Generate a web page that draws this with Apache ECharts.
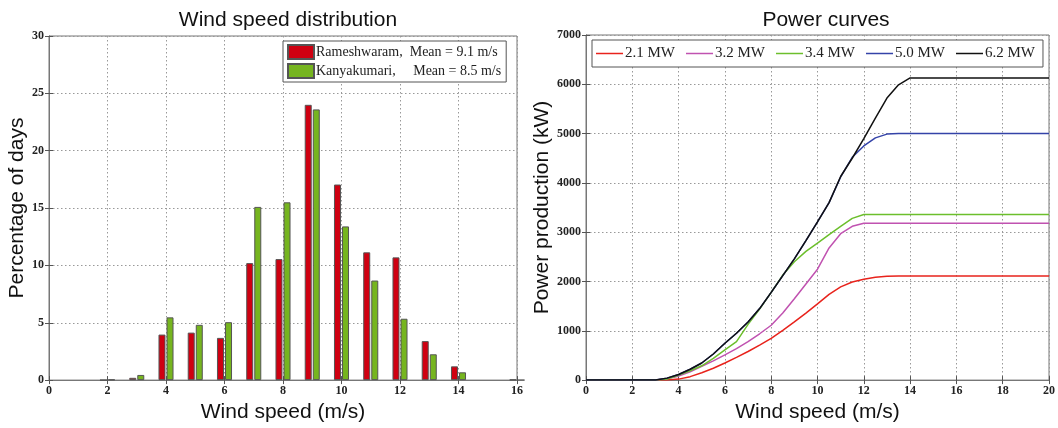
<!DOCTYPE html>
<html>
<head>
<meta charset="utf-8">
<script src="https://cdn.jsdelivr.net/npm/echarts@6/dist/echarts.min.js"></script>
<style>
  html, body { margin: 0; padding: 0; background: #fff; }
  #chart { width: 1058px; height: 428px; }
</style>
</head>
<body>
<div id="chart"></div>
<script>
// ---- wind speed distribution (percentage of days per wind speed bin)
var binSpeeds = [2, 3, 4, 5, 6, 7, 8, 9, 10, 11, 12, 13, 14, 16];
var rameshwaram = [0, 0.2, 3.97, 4.14, 3.68, 10.2, 10.55, 24.0, 17.05, 11.14, 10.7, 3.4, 1.2, 0.05];
var kanyakumari = [0.05, 0.45, 5.47, 4.82, 5.05, 15.1, 15.5, 23.6, 13.4, 8.68, 5.35, 2.25, 0.68, 0];

// ---- power curves (kW against wind speed)
var speeds = [0, 1, 2, 3, 3.5, 4, 4.5, 5, 5.5, 6, 6.5, 7, 7.5, 8, 8.5, 9, 9.5, 10, 10.5, 11, 11.5, 12, 12.5, 13, 13.5, 14, 15, 16, 17, 18, 19, 20];
var p21 = [0, 0, 0, 0, 0, 20, 70, 150, 240, 347, 460, 580, 710, 847, 1010, 1180, 1360, 1547, 1740, 1890, 1990, 2047, 2085, 2105, 2110, 2110, 2110, 2110, 2110, 2110, 2110, 2110];
var p32 = [0, 0, 0, 0, 30, 80, 170, 280, 390, 513, 640, 780, 940, 1113, 1360, 1650, 1950, 2250, 2680, 2970, 3120, 3180, 3180, 3180, 3180, 3180, 3180, 3180, 3180, 3180, 3180, 3180];
var p34 = [0, 0, 0, 0, 20, 100, 190, 290, 440, 613, 780, 1130, 1440, 1780, 2130, 2400, 2610, 2780, 2950, 3120, 3280, 3360, 3360, 3360, 3360, 3360, 3360, 3360, 3360, 3360, 3360, 3360];
var p50 = [0, 0, 0, 0, 40, 113, 220, 347, 530, 747, 950, 1180, 1450, 1780, 2120, 2460, 2830, 3210, 3600, 4120, 4520, 4750, 4914, 4990, 5000, 5000, 5000, 5000, 5000, 5000, 5000, 5000];
var p62 = [0, 0, 0, 0, 40, 113, 220, 347, 530, 747, 950, 1180, 1450, 1780, 2120, 2460, 2830, 3210, 3600, 4130, 4500, 4900, 5314, 5720, 5990, 6130, 6130, 6130, 6130, 6130, 6130, 6130];

var turbineNames = ['2.1 MW', '3.2 MW', '3.4 MW', '5.0 MW', '6.2 MW'];
var turbineColors = ['#e8231c', '#c052b0', '#6cbf2c', '#3443a8', '#111111'];
var turbinePower = [p21, p32, p34, p50, p62];

var serif = 'Liberation Serif';
var sans = 'Liberation Sans';

function pairs(xs, ys) {
  return xs.map(function (x, i) { return [x, ys[i]]; });
}

var tickLabel = {
  fontFamily: serif, fontWeight: 'bold', fontSize: 12, color: '#222', margin: 5,
  formatter: function (v) { return String(v); }
};
var dotted = { show: true, lineStyle: { type: [1.5, 2.5], color: '#999', width: 1 } };
var frameLine = { show: true, lineStyle: { color: '#777', width: 1 } };
var tickIn = { show: true, inside: true, length: 4, lineStyle: { color: '#555' } };
var nameStyle = { fontFamily: sans, fontSize: 21, color: '#111' };
var titleStyle = { fontFamily: sans, fontSize: 21, fontWeight: 'normal', color: '#111' };

function mirrorAxis(grid, pos, min, max, interval) {
  return {
    gridIndex: grid, type: 'value', position: pos, min: min, max: max, interval: interval,
    axisLine: frameLine, axisTick: tickIn, axisLabel: { show: false }, splitLine: { show: false }
  };
}

var chart = echarts.init(document.getElementById('chart'));

var lineSeries = turbineNames.map(function (name, i) {
  return {
    name: name, type: 'line', xAxisIndex: 2, yAxisIndex: 2,
    data: pairs(speeds, turbinePower[i]),
    symbol: 'none', showSymbol: false,
    lineStyle: { color: turbineColors[i], width: 1.5 },
    itemStyle: { color: turbineColors[i] }
  };
});

chart.setOption({
  backgroundColor: '#fff',
  animation: false,
  title: [
    { text: 'Wind speed distribution', left: 283, top: 5, textAlign: 'center', textStyle: titleStyle },
    { text: 'Power curves', left: 821, top: 5, textAlign: 'center', textStyle: titleStyle }
  ],
  legend: [
    {
      data: ['Rameshwaram,  Mean = 9.1 m/s', 'Kanyakumari,     Mean = 8.5 m/s'],
      orient: 'vertical', left: 283, top: 41, padding: [3, 5, 3, 4], itemGap: 3,
      icon: 'rect', itemWidth: 26, itemHeight: 14,
      borderColor: '#555', borderWidth: 1, backgroundColor: '#fff',
      textStyle: { fontFamily: serif, fontSize: 14, color: '#222', padding: [0, 0, 0, -3] }
    },
    {
      data: turbineNames,
      orient: 'horizontal', left: 592, top: 40, width: 460, padding: [6, 8, 6, 4], itemGap: 11,
      icon: 'rect', itemWidth: 27, itemHeight: 1.5,
      borderColor: '#555', borderWidth: 1, backgroundColor: '#fff',
      textStyle: { fontFamily: serif, fontSize: 15, color: '#222', padding: [0, 0, 0, -3] }
    }
  ],
  grid: [
    { left: 49, top: 36, width: 468, height: 351, show: true, borderColor: '#777', backgroundColor: '#fff' },
    { left: 586, top: 35, width: 470, height: 351, show: true, borderColor: '#777', backgroundColor: '#fff' }
  ],
  xAxis: [
    {
      gridIndex: 0, type: 'value', min: 0, max: 16, interval: 2,
      name: 'Wind speed (m/s)', nameLocation: 'middle', nameGap: 12, nameTextStyle: nameStyle,
      axisLine: frameLine, axisTick: tickIn, axisLabel: tickLabel, splitLine: dotted
    },
    mirrorAxis(0, 'top', 0, 16, 2),
    {
      gridIndex: 1, type: 'value', min: 0, max: 20, interval: 2,
      name: 'Wind speed (m/s)', nameLocation: 'middle', nameGap: 12, nameTextStyle: nameStyle,
      axisLine: frameLine, axisTick: tickIn, axisLabel: tickLabel, splitLine: dotted
    },
    mirrorAxis(1, 'top', 0, 20, 2)
  ],
  yAxis: [
    {
      gridIndex: 0, type: 'value', min: 0, max: 30, interval: 5,
      name: 'Percentage of days', nameLocation: 'middle', nameGap: 21, nameTextStyle: nameStyle,
      axisLine: frameLine, axisTick: tickIn, axisLabel: tickLabel, splitLine: dotted
    },
    mirrorAxis(0, 'right', 0, 30, 5),
    {
      gridIndex: 1, type: 'value', min: 0, max: 7000, interval: 1000,
      name: 'Power production (kW)', nameLocation: 'middle', nameGap: 30, nameTextStyle: nameStyle,
      axisLine: frameLine, axisTick: tickIn, axisLabel: tickLabel, splitLine: dotted
    },
    mirrorAxis(1, 'right', 0, 7000, 1000)
  ],
  series: [
    {
      name: 'Rameshwaram,  Mean = 9.1 m/s', type: 'bar', xAxisIndex: 0, yAxisIndex: 0,
      data: pairs(binSpeeds, rameshwaram), barWidth: 7, barGap: '15%',
      itemStyle: { color: '#cf0011', borderColor: '#555', borderWidth: 1 }
    },
    {
      name: 'Kanyakumari,     Mean = 8.5 m/s', type: 'bar', xAxisIndex: 0, yAxisIndex: 0,
      data: pairs(binSpeeds, kanyakumari), barWidth: 7, barGap: '15%',
      itemStyle: { color: '#76b51f', borderColor: '#555', borderWidth: 1 }
    }
  ].concat(lineSeries)
});
</script>
</body>
</html>
